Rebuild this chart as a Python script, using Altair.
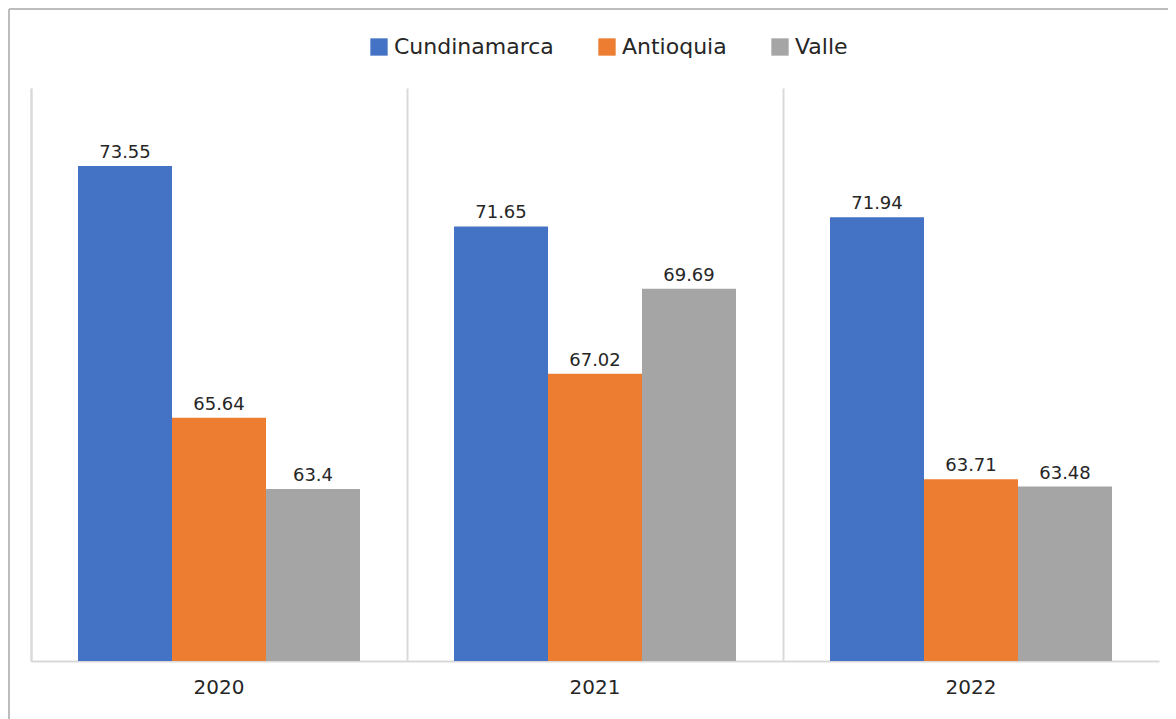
import altair as alt
import pandas as pd

years = ["2020", "2021", "2022"]
series = ["Cundinamarca", "Antioquia", "Valle"]
cundinamarca = [73.55, 71.65, 71.94]
antioquia = [65.64, 67.02, 63.71]
valle = [63.4, 69.69, 63.48]
labels = [["73.55", "71.65", "71.94"], ["65.64", "67.02", "63.71"], ["63.4", "69.69", "63.48"]]
colors = ["#4472C4", "#ED7D31", "#A5A5A5"]

rows = []
for s, vals, labs in zip(series, [cundinamarca, antioquia, valle], labels):
    for y, v, l in zip(years, vals, labs):
        rows.append({"year": y, "serie": s, "value": v, "label": l})
df = pd.DataFrame(rows)

FONT = "DejaVu Sans"
W, H = 1128, 573

x = alt.X("year:N", sort=years, title=None,
          scale=alt.Scale(paddingInner=0, paddingOuter=0),
          axis=alt.Axis(labelAngle=0, ticks=False, labelPadding=16, labelFontSize=20,
                        labelColor="#262626", labelFont=FONT, domainColor="#d9d9d9",
                        domainWidth=2, grid=True, gridColor="#d9d9d9", gridWidth=2,
                        bandPosition=0))
xo = alt.XOffset("serie:N", sort=series, scale=alt.Scale(paddingInner=0, paddingOuter=0.5))
y = alt.Y("value:Q", title=None,
          scale=alt.Scale(domain=[58, 76], nice=False, zero=False),
          axis=alt.Axis(labels=False, ticks=False, grid=False, domainColor="#d9d9d9",
                        domainWidth=2))
color = alt.Color("serie:N", sort=series,
                  scale=alt.Scale(domain=series, range=colors),
                  legend=alt.Legend(title=None, orient="none", direction="horizontal",
                                    legendX=337, legendY=-52, symbolType="square",
                                    symbolSize=300, symbolStrokeWidth=0, symbolOpacity=1,
                                    labelFontSize=22, labelFont=FONT, labelColor="#262626",
                                    columnPadding=42, labelOffset=4))

base = alt.Chart(df)
bars = base.mark_bar(clip=True).encode(x=x, xOffset=xo, y=y, color=color)
text = base.mark_text(baseline="bottom", dy=-4, fontSize=18, font=FONT, color="#262626").encode(
    x=alt.X("year:N", sort=years), xOffset=alt.XOffset("serie:N", sort=series), y="value:Q",
    text="label:N")

frame_top = alt.Chart(df).mark_rule(color="#bdbdbd", strokeWidth=2).encode(
    x=alt.value(-22), x2=alt.value(1160), y=alt.value(-79))
frame_left = alt.Chart(df).mark_rule(color="#bdbdbd", strokeWidth=2).encode(
    x=alt.value(-22), y=alt.value(-79), y2=alt.value(640))

chart = alt.layer(bars, text, frame_top, frame_left).properties(
    width=W, height=H,
    background="white",
    autosize=alt.AutoSizeParams(type="none"),
    padding={"left": 23, "top": 80, "right": 9, "bottom": 60},
).configure_view(stroke=None, strokeWidth=0)

chart.save("out.html", embed_options={"renderer": "svg", "actions": False})
